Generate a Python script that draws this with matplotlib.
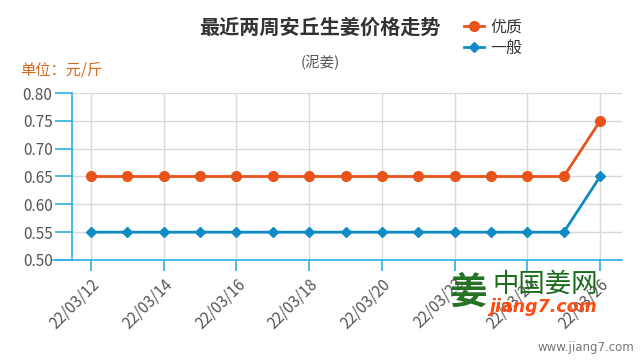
import matplotlib
matplotlib.use("Agg")
import matplotlib.pyplot as plt

plt.rcParams['font.family'] = ['Noto Sans CJK SC', 'DejaVu Sans']

dates = ["22/03/12", "22/03/13", "22/03/14", "22/03/15", "22/03/16", "22/03/17",
         "22/03/18", "22/03/19", "22/03/20", "22/03/21", "22/03/22", "22/03/23",
         "22/03/24", "22/03/25", "22/03/26"]
premium = [0.65, 0.65, 0.65, 0.65, 0.65, 0.65, 0.65, 0.65, 0.65, 0.65, 0.65, 0.65, 0.65, 0.65, 0.75]
normal = [0.55, 0.55, 0.55, 0.55, 0.55, 0.55, 0.55, 0.55, 0.55, 0.55, 0.55, 0.55, 0.55, 0.55, 0.65]
yticks = [0.50, 0.55, 0.60, 0.65, 0.70, 0.75, 0.80]

c_prem = '#e8531c'
c_norm = '#0f8bc6'
c_axis = '#2cb0e4'

fig = plt.figure(figsize=(6.4, 3.6), dpi=100)
ax = fig.add_axes([72/640, 1-260/360, (622-72)/640, (260-93)/360])

x = list(range(len(dates)))
ax.plot(x, premium, color=c_prem, lw=2, marker='o', ms=7, label='优质', zorder=3)
ax.plot(x, normal, color=c_norm, lw=2, marker='D', ms=5, label='一般', zorder=3)

ax.set_ylim(0.50, 0.80)
ax.set_xlim(-0.52, 14.6)
ax.set_yticks(yticks)
ax.set_yticklabels([f"{v:.2f}" for v in yticks], fontsize=11, color='#555555')
lab_idx = x[::2]
ax.set_xticks(lab_idx)
ax.set_xticklabels([dates[i] for i in lab_idx], rotation=45, ha='right',
                   rotation_mode='anchor', fontsize=11, color='#555555')

ax.grid(True, color='#d9d9d9', lw=1)
ax.set_axisbelow(True)
for s in ['top', 'right']:
    ax.spines[s].set_visible(False)
for s in ['left', 'bottom']:
    ax.spines[s].set_color(c_axis)
    ax.spines[s].set_linewidth(1.2)
ax.spines['bottom'].set_bounds(-1.05, 14.6)
ax.tick_params(axis='y', length=12, width=1.2, color=c_axis, pad=2)
ax.tick_params(axis='x', length=8, width=1.2, color=c_axis, pad=3)

fig.text(320/640, 1-27/360, '最近两周安丘生姜价格走势', ha='center', va='center',
         fontsize=14.5, fontweight='bold', color='#333333')
fig.text(320/640, 1-62/360, '(泥姜)', ha='center', va='center', fontsize=10.5, color='#555555')
fig.text(20/640, 1-70/360, '单位：元/斤', ha='left', va='center', fontsize=11, color='#d2691e')

leg = fig.legend(loc='center left', bbox_to_anchor=(458/640, 1-38/360), frameon=False,
                 fontsize=11.5, handlelength=1.2, handletextpad=0.4, labelspacing=0.25,
                 borderaxespad=0)
for t in leg.get_texts():
    t.set_color('#333333')

# watermark
fig.text(468/640, 1-292/360, '姜', ha='center', va='center', fontsize=27,
         fontweight='bold', color='#1a6b1a', alpha=0.95)
fig.text(545/640, 1-284/360, '中国姜网', ha='center', va='center', fontsize=19,
         color='#1a6b1a')
fig.text(543/640, 1-307/360, 'jiang7.com', ha='center', va='center', fontsize=12.5,
         fontweight='bold', fontstyle='italic', color='#ff4a12', family='DejaVu Sans')
fig.text(634/640, 1-347/360, 'www.jiang7.com', ha='right', va='center', fontsize=8.5,
         color='#777777', family='DejaVu Sans')

fig.savefig('out.png', dpi=100)
